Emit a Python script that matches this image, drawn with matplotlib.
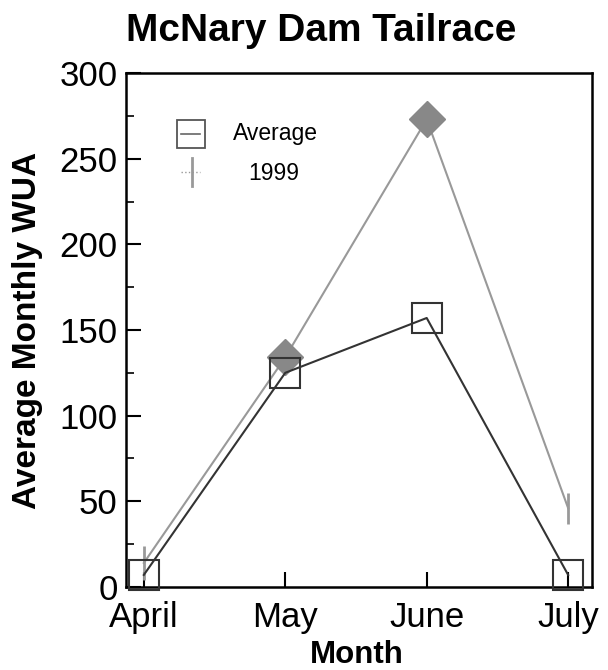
import numpy as np
import matplotlib.pyplot as plt
from matplotlib.ticker import MultipleLocator

plt.rcParams['font.family'] = ['Liberation Sans', 'DejaVu Sans']

months = ['April', 'May', 'June', 'July']
avg_wua = [7, 125, 157, 7]
wua_1999 = [14, 134, 273, 46]
err_1999 = [10, 0, 0, 9]
diamond_idx = [1, 2]
err_idx = [0, 3]

x = np.arange(len(months))

fig = plt.figure(figsize=(6.08, 6.7), dpi=100)
ax = fig.add_axes([0.207, 0.124, 0.767, 0.767])

# 1999 series
ax.plot(x, wua_1999, color='#999999', lw=1.5, zorder=2)
ax.plot(x[diamond_idx], np.array(wua_1999)[diamond_idx], 'D', ms=18,
        color='#888888', mec='#888888', zorder=3)
ax.errorbar(x[err_idx], np.array(wua_1999)[err_idx], yerr=np.array(err_1999)[err_idx],
            fmt='none', ecolor='#999999', elinewidth=2, capsize=0, zorder=3)

# average series
ax.plot(x, avg_wua, color='#333333', lw=1.5, marker='s', ms=21, mfc='none',
        mec='#333333', mew=1.5, zorder=4, clip_on=False)

ax.set_xlim(-0.127, 3.17)
ax.set_ylim(0, 300)
ax.set_xticks(x)
ax.set_xticklabels(months)
ax.yaxis.set_major_locator(MultipleLocator(50))
ax.yaxis.set_minor_locator(MultipleLocator(25))
ax.tick_params(axis='both', which='major', direction='in', length=11, width=1.5,
               labelsize=25, colors='black')
ax.tick_params(axis='x', pad=10)
ax.tick_params(axis='y', pad=6)
ax.tick_params(axis='y', which='minor', direction='in', length=6, width=1.2)
for s in ax.spines.values():
    s.set_linewidth(1.8)

fig.text(321 / 608, 1 - 41 / 670, 'McNary Dam Tailrace', fontsize=28,
         fontweight='bold', ha='center', va='baseline')
ax.set_xlabel('Month', fontsize=22.5, fontweight='bold')
ax.set_ylabel('Average Monthly WUA', fontsize=24, fontweight='bold')
ax.xaxis.set_label_coords(0.496, -0.103)
ax.yaxis.set_label_coords(-0.178, 0.5)

# legend drawn by hand
tr = ax.transAxes
ax.plot([0.139], [0.882], 's', ms=20, mfc='none', mec='#555555', mew=1.3, transform=tr)
ax.plot([0.119, 0.159], [0.882, 0.882], color='#666666', lw=1.2, transform=tr)
ax.text(0.23, 0.882, 'Average', fontsize=16.5, va='center', ha='left', transform=tr)
ax.plot([0.119, 0.159], [0.808, 0.808], color='#999999', lw=1, ls=':', transform=tr)
ax.plot([0.141, 0.141], [0.78, 0.835], color='#999999', lw=2, transform=tr)
ax.text(0.318, 0.804, '1999', fontsize=16.5, va='center', ha='center', transform=tr)

fig.savefig('out.png', dpi=100)
